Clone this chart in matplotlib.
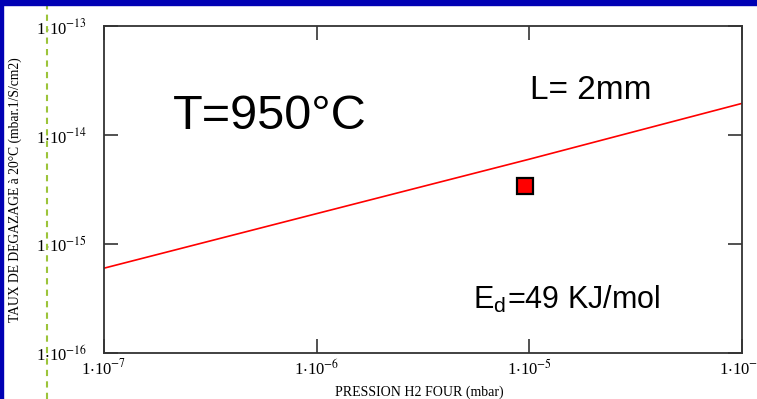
import numpy as np
import matplotlib
matplotlib.use("Agg")
import matplotlib.pyplot as plt
from matplotlib.patches import Rectangle
from matplotlib.lines import Line2D

# courbe theorique (pression H2 four, taux de degazage)
pression = [1e-7, 1e-6, 1e-5, 1e-4]
taux = [6.0e-16, 1.9e-15, 6.0e-15, 1.95e-14]

# point mesure
p_mesure = [9.5e-6]
taux_mesure = [3.4e-15]

yticks = [1e-16, 1e-15, 1e-14, 1e-13]
ytick_labels = [r"1$\cdot$10$^{-16}$", r"1$\cdot$10$^{-15}$", r"1$\cdot$10$^{-14}$", r"1$\cdot$10$^{-13}$"]
xticks = [1e-7, 1e-6, 1e-5, 1e-4]
xtick_labels = [r"1$\cdot$10$^{-7}$", r"1$\cdot$10$^{-6}$", r"1$\cdot$10$^{-5}$", r"1$\cdot$10$^{-4}$"]

plt.rcParams["mathtext.fontset"] = "stix"
plt.rcParams["font.family"] = "Liberation Serif"

W, H = 757, 399
fig = plt.figure(figsize=(W / 100, H / 100), dpi=100)
ax = fig.add_axes([104 / W, (H - 353) / H, 638 / W, 327 / H])

ax.plot(pression, taux, color="red", lw=1.2)
ax.plot(p_mesure, taux_mesure, "s", color="red", mec="black", mew=1.6, ms=11)

ax.set_xscale("log")
ax.set_yscale("log")
ax.set_xlim(1e-7, 1e-4)
ax.set_ylim(1e-16, 1e-13)
ax.minorticks_off()
ax.set_xticks(xticks)
ax.set_xticklabels(xtick_labels)
ax.set_yticks(yticks)
ax.set_yticklabels(ytick_labels)
ax.tick_params(direction="in", length=10, width=1.2, top=True, right=True,
               labelsize=12, color="#333333")
ax.tick_params(axis="y", pad=12)
ax.tick_params(axis="x", pad=4)
for s in ax.spines.values():
    s.set_linewidth(1.3)
    s.set_color("#333333")

ax.set_xlabel("PRESSION H2 FOUR (mbar)", fontsize=10)
ax.xaxis.set_label_coords(0.495, -33 / 327)
ax.set_ylabel("TAUX DE DEGAZAGE à 20°C (mbar.1/S/cm2)", fontsize=9.8)
ax.yaxis.set_label_coords(-82 / 638, 0.5)

sans = "Liberation Sans"
ax.text(0.108, 0.685, "T=950°C", transform=ax.transAxes, fontsize=35,
        family=sans, va="baseline")
ax.text(0.668, 0.777, "L= 2mm", transform=ax.transAxes, fontsize=24,
        family=sans, va="baseline")
ax.text(0.578, 0.135, r"E$_\mathregular{d}$=49 KJ/mol", transform=ax.transAxes,
        fontsize=22, family=sans, va="baseline")

# cadre de la diapo
fig.patches.append(Rectangle((0, 1 - 5 / H), 1, 5 / H, transform=fig.transFigure,
                             color="#0000b4", zorder=5))
fig.patches.append(Rectangle((0, 0), 2.5 / W, 1, transform=fig.transFigure,
                             color="#0000b4", zorder=5))
fig.lines.append(Line2D([47 / W, 47 / W], [0, 1 - 5 / H], transform=fig.transFigure,
                        color="#9cc43a", lw=1.5, ls=(0, (3, 2.5)), zorder=4))

fig.savefig("out.png", dpi=100)
